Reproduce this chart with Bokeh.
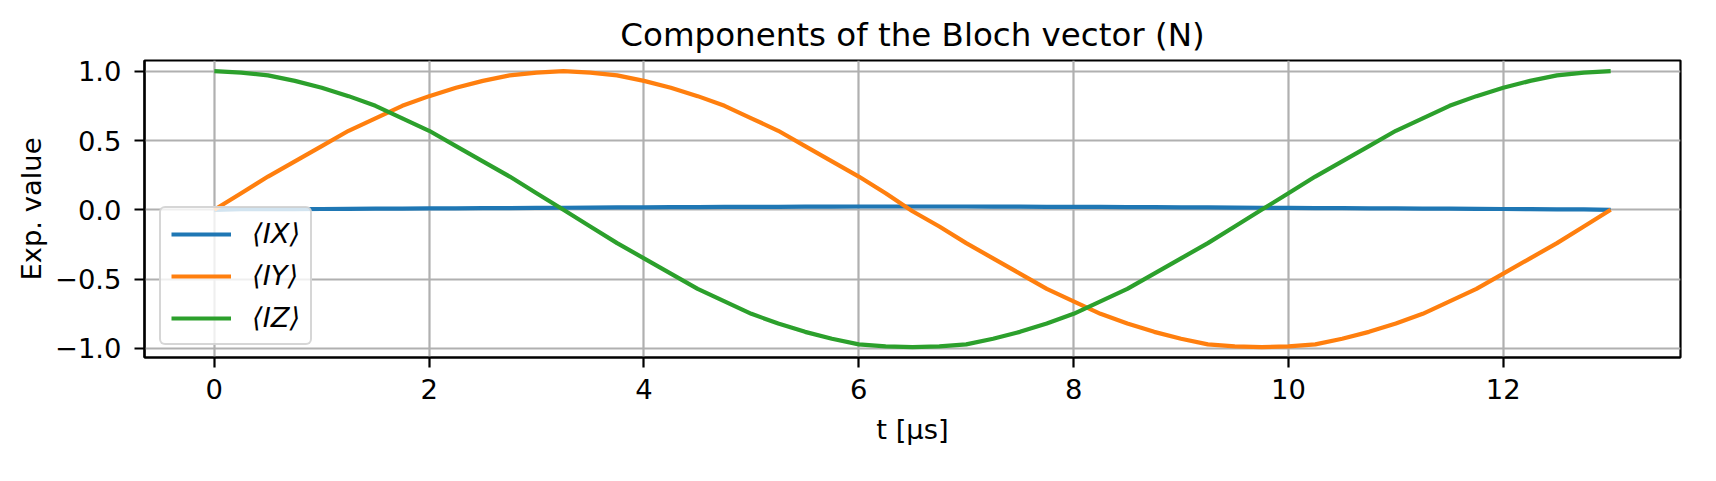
import numpy as np
from bokeh.plotting import figure
from bokeh.models import Legend, LegendItem, FixedTicker, Range1d
from bokeh.embed import file_html
from bokeh.resources import INLINE

# time axis [µs], sampled every 0.25 µs
t = np.linspace(0.0, 13.0, 53)

ix = [0.00, 0.005, 0.005, 0.005, 0.006, 0.007, 0.008, 0.009, 0.010, 0.011,
      0.012, 0.013, 0.014, 0.015, 0.016, 0.017, 0.018, 0.019, 0.020, 0.021,
      0.022, 0.022, 0.023, 0.023, 0.024, 0.024, 0.024, 0.024, 0.024, 0.023,
      0.023, 0.022, 0.022, 0.021, 0.020, 0.019, 0.018, 0.017, 0.016, 0.015,
      0.014, 0.013, 0.012, 0.011, 0.010, 0.009, 0.008, 0.007, 0.006, 0.005,
      0.004, 0.003, 0.000]

iy = [0.00, 0.12, 0.24, 0.35, 0.46, 0.57, 0.66, 0.75, 0.82, 0.88, 0.93, 0.97,
      0.99, 1.00, 0.99, 0.97, 0.93, 0.88, 0.82, 0.75, 0.66, 0.57, 0.46, 0.35,
      0.24, 0.12, -0.01, -0.12, -0.24, -0.35, -0.46, -0.57, -0.66, -0.75,
      -0.82, -0.88, -0.93, -0.97, -0.985, -0.99, -0.985, -0.97, -0.93, -0.88,
      -0.82, -0.75, -0.66, -0.57, -0.46, -0.35, -0.24, -0.12, 0.00]

iz = [1.00, 0.99, 0.97, 0.93, 0.88, 0.82, 0.75, 0.66, 0.57, 0.46, 0.35, 0.24,
      0.12, 0.00, -0.12, -0.24, -0.35, -0.46, -0.57, -0.66, -0.75, -0.82,
      -0.88, -0.93, -0.97, -0.985, -0.99, -0.985, -0.97, -0.93, -0.88, -0.82,
      -0.75, -0.66, -0.57, -0.46, -0.35, -0.24, -0.12, 0.00, 0.12, 0.24,
      0.35, 0.46, 0.57, 0.66, 0.75, 0.82, 0.88, 0.93, 0.97, 0.99, 1.00]

series_labels = ["⟨IX⟩", "⟨IY⟩", "⟨IZ⟩"]
series_colors = ["#1f77b4", "#ff7f0e", "#2ca02c"]

x_ticks = [0, 2, 4, 6, 8, 10, 12]
y_ticks = [-1.0, -0.5, 0.0, 0.5, 1.0]
y_tick_labels = ["−1.0", "−0.5", "0.0", "0.5", "1.0"]

FONT = "DejaVu Sans"

p = figure(width=1700, height=465, output_backend="svg", toolbar_location=None,
           x_range=Range1d(-0.65, 13.65), y_range=Range1d(-1.065, 1.077),
           min_border_left=144, min_border_right=20, min_border_top=60,
           min_border_bottom=108,
           title="Components of the Bloch vector (N)")

p.background_fill_color = "white"
p.border_fill_color = "white"
p.outline_line_color = "black"
p.outline_line_width = 2.2

p.title.align = "center"
p.title.text_font = FONT
p.title.text_font_size = "32.5px"
p.title.text_font_style = "normal"
p.title.text_color = "black"
p.title.standoff = 14

for ax in (p.xaxis[0], p.yaxis[0]):
    ax.axis_line_width = 2.2
    ax.axis_line_color = "black"
    ax.major_tick_line_width = 2.2
    ax.major_tick_line_color = "black"
    ax.major_tick_in = 0
    ax.major_tick_out = 10
    ax.minor_tick_line_color = None
    ax.major_label_text_font = FONT
    ax.major_label_text_font_size = "27.4px"
    ax.major_label_text_color = "black"
    ax.axis_label_text_font = FONT
    ax.axis_label_text_font_size = "27.4px"
    ax.axis_label_text_font_style = "normal"
    ax.axis_label_text_color = "black"

p.xaxis.ticker = FixedTicker(ticks=x_ticks)
p.yaxis.ticker = FixedTicker(ticks=y_ticks)
p.yaxis.major_label_overrides = {v: s for v, s in zip(y_ticks, y_tick_labels)}
p.xaxis.axis_label = "t [μs]"
p.yaxis.axis_label = "Exp. value"
p.xaxis.major_label_standoff = 11
p.yaxis.major_label_standoff = 13
p.xaxis.axis_label_standoff = 12
p.yaxis.axis_label_standoff = 5

p.grid.grid_line_color = "#b0b0b0"
p.grid.grid_line_width = 2.2

renderers = []
for ys, c in zip([ix, iy, iz], series_colors):
    r = p.line(t, ys, line_color=c, line_width=4.2, line_join="round")
    renderers.append(r)

legend = Legend(items=[LegendItem(label=l, renderers=[r])
                       for l, r in zip(series_labels, renderers)],
                location=(15, 12))
legend.label_text_font = FONT
legend.label_text_font_size = "27.4px"
legend.label_text_font_style = "italic"
legend.label_text_color = "black"
legend.glyph_width = 60
legend.glyph_height = 30
legend.label_height = 30
legend.label_standoff = 21
legend.spacing = 11
legend.padding = 10
legend.margin = 0
legend.background_fill_color = "white"
legend.background_fill_alpha = 0.8
legend.border_line_color = "#cccccc"
legend.border_line_alpha = 0.8
legend.border_line_width = 2.8
if "border_radius" in Legend.properties():
    legend.border_radius = 6
p.add_layout(legend)

open("out.html", "w").write(file_html(p, INLINE))
